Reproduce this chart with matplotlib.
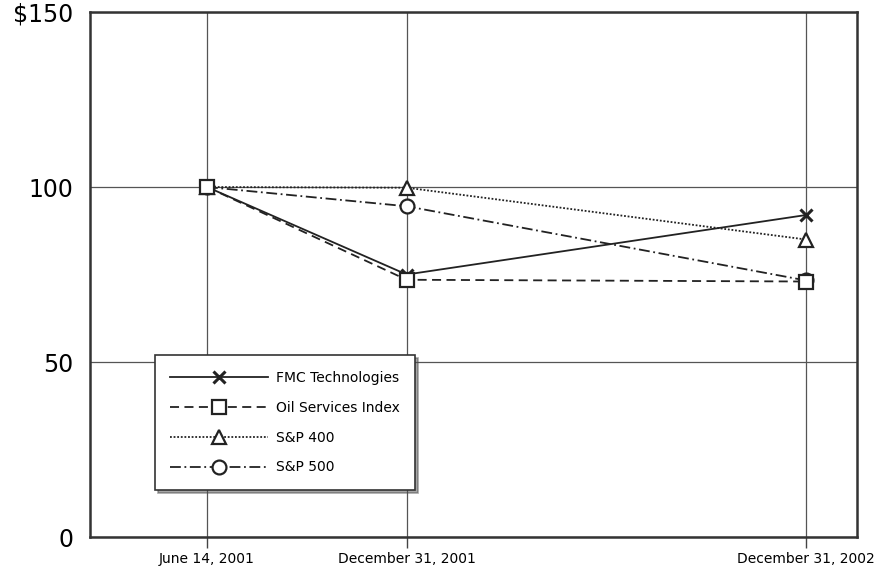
import matplotlib.pyplot as plt

# periods (half-year steps from June 2001)
periods = [0, 1, 3]
period_labels = ["June 14, 2001", "December 31, 2001", "December 31, 2002"]

fmc = [100, 75, 92]
oil_services = [100, 73.5, 73]
sp400 = [100, 99.8, 85]
sp500 = [100, 94.5, 73.3]

series = [
    ("FMC Technologies", fmc, "-", "x", 4),
    ("Oil Services Index", oil_services, (0, (5, 3)), "s", 5),
    ("S&P 400", sp400, (0, (1, 1)), "^", 3),
    ("S&P 500", sp500, (0, (6, 2, 1, 2)), "o", 2),
]

fig = plt.figure(figsize=(8.76, 5.69), dpi=100)
ax = fig.add_axes([0.1027, 0.0562, 0.8756, 0.9227])

for name, vals, ls, mk, z in series:
    ax.plot(periods, vals, linestyle=ls, color="#222222", linewidth=1.3,
            marker=mk, markersize=10 if mk != "x" else 8,
            markerfacecolor="white", markeredgecolor="#222222",
            markeredgewidth=1.6 if mk != "x" else 2.2, label=name, zorder=z)

ax.set_xlim(-0.586, 3.255)
ax.set_ylim(0, 150)
ax.set_xticks(periods)
ax.set_xticklabels(period_labels, fontsize=10)
ax.set_yticks([0, 50, 100, 150])
ax.set_yticklabels(["0", "50", "100", "$150"], fontsize=17)
ax.tick_params(axis="x", length=8, width=1, color="#444444", pad=3)
ax.tick_params(axis="y", length=0, pad=12)
ax.grid(True, color="#555555", linewidth=0.9)
ax.set_axisbelow(True)
for s in ax.spines.values():
    s.set_linewidth(1.8)
    s.set_color("#333333")

leg = ax.legend(loc="lower left", bbox_to_anchor=(0.085, 0.09), fontsize=10,
                handlelength=7, frameon=True, fancybox=False, shadow=True,
                borderpad=1.1, labelspacing=1.15, handletextpad=0.6,
                borderaxespad=0)
leg.get_frame().set_edgecolor("#333333")
leg.get_frame().set_linewidth(1.2)

fig.savefig("out.png", dpi=100)
